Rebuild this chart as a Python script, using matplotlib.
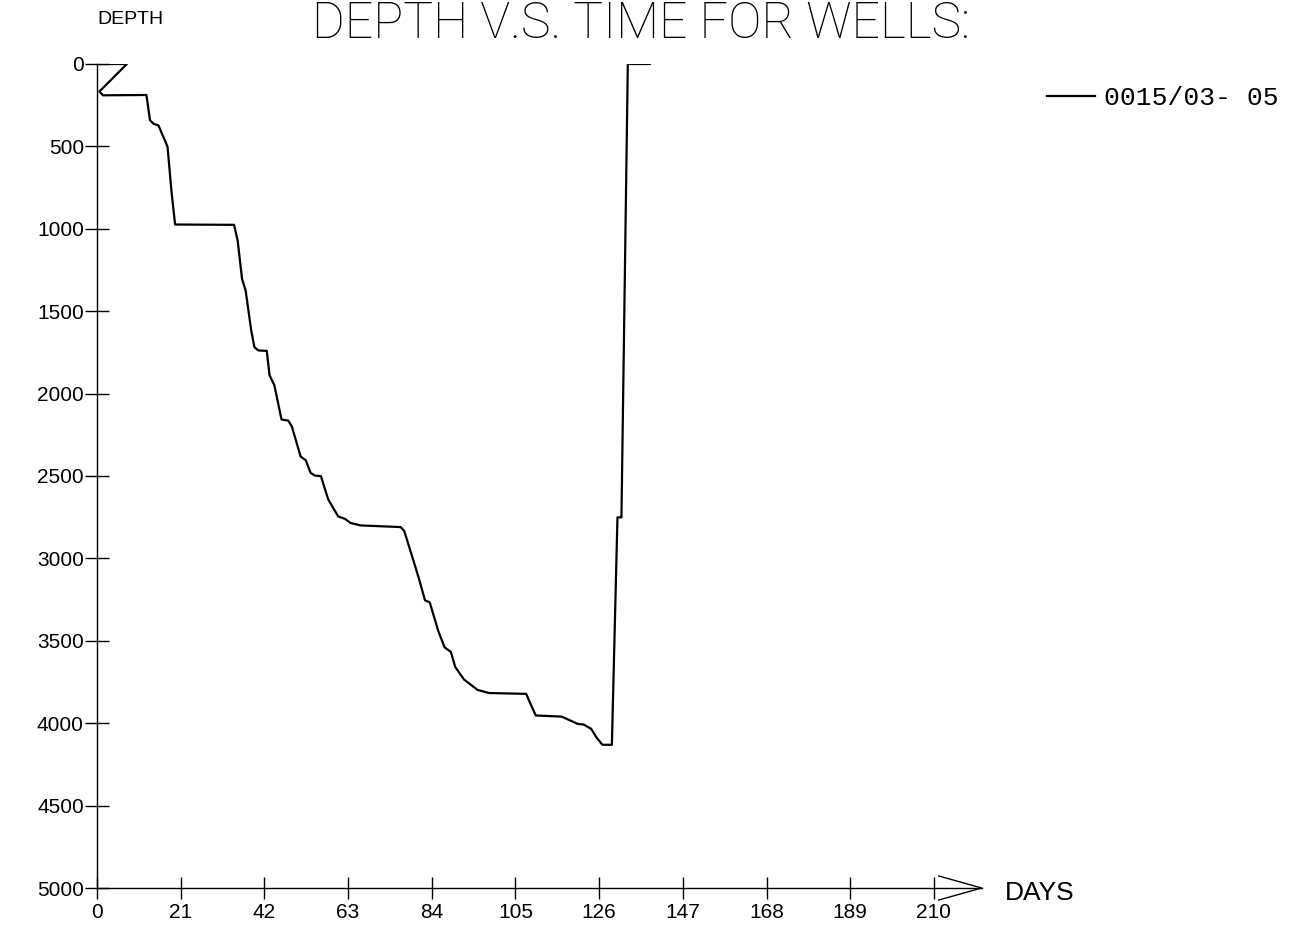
import numpy as np
import matplotlib
matplotlib.use("Agg")
import matplotlib.pyplot as plt

# well 0015/03- 05 : days since spud vs measured depth
days = [0, 7.5, 0.6, 1.5, 12.4, 13.3, 14.2, 15.4, 17.2, 17.7,
        18.7, 19.6, 34.4, 35.3, 36.4, 37.3, 38.7, 39.5, 40.5, 42.6,
        43.3, 44.5, 46.3, 48.0, 48.9, 51.1, 52.4, 53.6, 54.6, 56.2,
        58.0, 60.5, 62.3, 63.6, 66.2, 76.2, 77.1, 78.4, 80.7, 82.3,
        83.5, 85.6, 87.2, 88.8, 89.9, 92.1, 95.5, 98.4, 107.7, 108.6,
        110.1, 116.6, 117.8, 120.6, 122.1, 124.0, 125.3, 126.8, 129.2, 130.6,
        131.6, 133.2, 138.7]
depth = [0, 0, 167, 190, 188, 341, 363, 372, 473, 503,
         776, 974, 976, 1072, 1304, 1375, 1617, 1718, 1738, 1741,
         1889, 1949, 2157, 2164, 2200, 2382, 2405, 2481, 2497, 2501,
         2641, 2745, 2761, 2785, 2800, 2810, 2834, 2935, 3116, 3254,
         3267, 3438, 3539, 3568, 3659, 3735, 3798, 3817, 3822, 3873,
         3953, 3960, 3973, 4004, 4008, 4034, 4085, 4131, 4131, 2751,
         2751, 0, 0]
well_name = "0015/03- 05"

x_ticks = [0, 21, 42, 63, 84, 105, 126, 147, 168, 189, 210]
y_ticks = [0, 500, 1000, 1500, 2000, 2500, 3000, 3500, 4000, 4500, 5000]

fam = ['Liberation Sans', 'DejaVu Sans']

W, H = 1303, 939
fig = plt.figure(figsize=(W / 100, H / 100), dpi=100)
ax = fig.add_axes([97 / W, 51 / H, 884.7 / W, 824 / H])

ax.plot(days, depth, color='black', linewidth=1.6, label=well_name)

ax.set_xlim(0, 222)
ax.set_ylim(5000, 0)
ax.spines['top'].set_visible(False)
ax.spines['right'].set_visible(False)
ax.spines['left'].set_linewidth(1.0)
ax.spines['bottom'].set_linewidth(1.0)

ax.set_xticks(x_ticks)
ax.set_yticks(y_ticks)
ax.tick_params(axis='y', direction='inout', length=17, width=1.0, pad=1, labelsize=15)
ax.tick_params(axis='x', direction='inout', length=16, width=1.0, pad=3, labelsize=15)
for lab in ax.get_xticklabels() + ax.get_yticklabels():
    lab.set_family(fam)

# open arrow head at the end of the time axis
ax.plot([1 - 43 / 884.7, 1, 1 - 43 / 884.7], [0.0146, 0, -0.0146],
        color='black', linewidth=1.0, transform=ax.transAxes, clip_on=False)

fig.text(641 / W, 1 - 1 / H, "DEPTH V.S. TIME FOR WELLS:", ha='center', va='top',
         fontsize=36, family=['Roboto', 'Liberation Sans', 'DejaVu Sans'], fontweight='light')
fig.text(130 / W, 1 - 19 / H, "DEPTH", ha='center', va='center', fontsize=14, family=fam)
fig.text(1005 / W, 1 - 893 / H, "DAYS", ha='left', va='center', fontsize=19, family=fam)

ax.legend(loc='center left', bbox_to_anchor=(1047 / W, 1 - 98 / H),
          bbox_transform=fig.transFigure, frameon=False, borderpad=0,
          borderaxespad=0, handlelength=1.8, handletextpad=0.36,
          prop={'family': ['Liberation Mono', 'DejaVu Sans Mono'], 'size': 19})

fig.savefig("out.png", dpi=100, facecolor='w')
